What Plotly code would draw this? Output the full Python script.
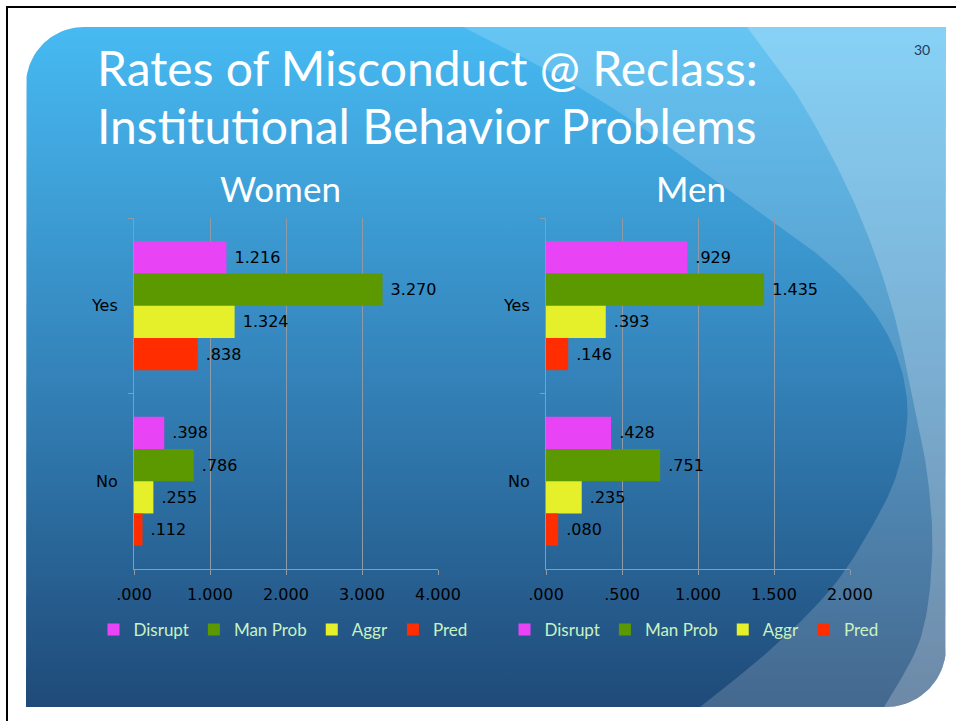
import numpy as np
import plotly.graph_objects as go

# ---------------- data ----------------
categories = ["Yes", "No"]
series_names = ["Disrupt", "Man Prob", "Aggr", "Pred"]
series_colors = ["#e844f5", "#5c9800", "#e6f02a", "#ff2d00"]

women_disrupt = [1.216, 0.398]
women_manprob = [3.270, 0.786]
women_aggr = [1.324, 0.255]
women_pred = [0.838, 0.112]

men_disrupt = [0.929, 0.428]
men_manprob = [1.435, 0.751]
men_aggr = [0.393, 0.235]
men_pred = [0.146, 0.080]

women_tickvals = [0, 1, 2, 3, 4]
women_ticktext = [".000", "1.000", "2.000", "3.000", "4.000"]
men_tickvals = [0, 0.5, 1, 1.5, 2]
men_ticktext = [".000", ".500", "1.000", "1.500", "2.000"]

title_lines = ["Rates of Misconduct @ Reclass:", "Institutional Behavior Problems"]
women_title = "Women"
men_title = "Men"
slide_number = "30"

W, H = 956, 721


def fmt(v):
    s = f"{v:.3f}"
    if s.startswith("0"):
        s = s[1:]
    return "\u00a0" + s


# ---------------- background helpers (pixel coords -> bg axis) ----------------
def smooth(pts, n=16):
    pts = np.array(pts, float)
    P = np.vstack([pts[0], pts, pts[-1]])
    out = []
    for i in range(1, len(P) - 2):
        p0, p1, p2, p3 = P[i - 1], P[i], P[i + 1], P[i + 2]
        for t in np.linspace(0, 1, n, endpoint=False):
            t2, t3 = t * t, t * t * t
            out.append(0.5 * ((2 * p1) + (-p0 + p2) * t + (2 * p0 - 5 * p1 + 4 * p2 - p3) * t2
                              + (-p0 + 3 * p1 - 3 * p2 + p3) * t3))
    out.append(pts[-1])
    return [tuple(p) for p in out]


def arc(cx, cy, r, a0, a1, n=24):
    a = np.radians(np.linspace(a0, a1, n))
    return list(zip(cx + r * np.cos(a), cy + r * np.sin(a)))


L, T, R, B = 26, 27, 946, 707
r1, r2 = 58, 60

slide_path = [(L, B), (L, T + r1)] + arc(L + r1, T + r1, r1, 180, 270) + [(R, T), (R, B - r2)] \
    + arc(R - r2, B - r2, r2, 0, 90) + [(L, B)]

curve_m = smooth([(463, 27), (600, 100), (735, 195), (830, 265), (885, 330), (907, 400),
                  (898, 470), (870, 530), (830, 590), (770, 650), (700, 707)])
overlay_m = curve_m + [(R - r2, B)] + arc(R - r2, B - r2, r2, 90, 0) + [(R, T), (463, T)]

curve_l = smooth([(747, 27), (800, 100), (853, 200), (890, 300), (913, 400), (928, 480),
                  (932, 560), (920, 640), (884, 707)])
overlay_l = curve_l + arc(R - r2, B - r2, r2, 90, 0) + [(R, T), (747, T)]


def to_xy(path):
    xs = [p[0] for p in path]
    ys = [H - p[1] for p in path]
    return xs, ys


fig = go.Figure()

sx, sy = to_xy(slide_path)
fig.add_trace(go.Scatter(
    x=sx, y=sy, mode="lines", fill="toself", line=dict(width=0),
    fillgradient=dict(type="vertical", start=H - B, stop=H - T,
                      colorscale=[[0, "#1f4a78"], [0.5, "#3484bb"], [1, "#47baf2"]]),
    hoverinfo="skip", showlegend=False, xaxis="x", yaxis="y"))

mx, my = to_xy(overlay_m)
fig.add_trace(go.Scatter(x=mx, y=my, mode="lines", fill="toself", line=dict(width=0),
                         fillcolor="rgba(255,255,255,0.17)", hoverinfo="skip",
                         showlegend=False, xaxis="x", yaxis="y"))
lx, ly = to_xy(overlay_l)
fig.add_trace(go.Scatter(x=lx, y=ly, mode="lines", fill="toself", line=dict(width=0),
                         fillcolor="rgba(255,255,255,0.22)", hoverinfo="skip",
                         showlegend=False, xaxis="x", yaxis="y"))

# ---------------- bars ----------------
women_series = [women_disrupt, women_manprob, women_aggr, women_pred]
men_series = [men_disrupt, men_manprob, men_aggr, men_pred]

label_font = dict(family="DejaVu Sans", size=16, color="#000000")

for name, color, vals in zip(series_names, series_colors, women_series):
    fig.add_trace(go.Bar(
        y=categories, x=vals, orientation="h", name=name,
        marker=dict(color=color, line=dict(width=0)),
        text=[fmt(v) for v in vals], textposition="outside", textfont=label_font,
        cliponaxis=False, xaxis="x2", yaxis="y2", legend="legend"))

for name, color, vals in zip(series_names, series_colors, men_series):
    fig.add_trace(go.Bar(
        y=categories, x=vals, orientation="h", name=name,
        marker=dict(color=color, line=dict(width=0)),
        text=[fmt(v) for v in vals], textposition="outside", textfont=label_font,
        cliponaxis=False, xaxis="x3", yaxis="y3", legend="legend2"))

grid_color = "#8e9ba6"
plot_top, plot_bot = 218, 569
ydom = [1 - plot_bot / H, 1 - plot_top / H]

xcommon = dict(showgrid=True, gridcolor=grid_color, gridwidth=1, showline=True,
               linecolor=grid_color, linewidth=1, ticks="outside", ticklen=5,
               tickcolor=grid_color, zeroline=False, fixedrange=True,
               tickfont=dict(family="DejaVu Sans", size=16, color="#000000"),
               ticklabelstandoff=6)
ycommon = dict(type="category", categoryorder="array", categoryarray=categories,
               range=[1.5, -0.5], showgrid=False, showline=True, linecolor=grid_color,
               linewidth=1, ticks="outside", ticklen=5, tickcolor=grid_color,
               tickson="boundaries", fixedrange=True, ticklabelstandoff=12,
               tickfont=dict(family="DejaVu Sans", size=16, color="#000000"))

legend_common = dict(orientation="h", yanchor="middle", xanchor="center",
                     y=1 - 630 / H, bgcolor="rgba(0,0,0,0)",
                     font=dict(family="Lato", size=17, color="#c8f2c2"),
                     itemclick=False, itemdoubleclick=False)

title_ann = []
for i, line in enumerate(title_lines):
    title_ann.append(dict(text=line, x=95 / W, y=1 - (68 + 57 * i) / H, xref="paper", yref="paper",
                          xanchor="left", yanchor="middle", align="left", showarrow=False,
                          font=dict(family="Lato", size=48, color="#ffffff")))

fig.update_layout(
    width=W, height=H, margin=dict(l=0, r=0, t=0, b=0, autoexpand=False),
    paper_bgcolor="#ffffff", plot_bgcolor="rgba(0,0,0,0)",
    barmode="group", bargap=0.266, bargroupgap=0,
    xaxis=dict(domain=[0, 1], range=[0, W], visible=False, fixedrange=True),
    yaxis=dict(domain=[0, 1], range=[0, H], visible=False, fixedrange=True),
    xaxis2=dict(domain=[134 / W, 438 / W], range=[0, 4], anchor="y2",
                tickvals=women_tickvals, ticktext=women_ticktext, **xcommon),
    yaxis2=dict(domain=ydom, anchor="x2", **ycommon),
    xaxis3=dict(domain=[546 / W, 850 / W], range=[0, 2], anchor="y3",
                tickvals=men_tickvals, ticktext=men_ticktext, **xcommon),
    yaxis3=dict(domain=ydom, anchor="x3", **ycommon),
    legend=dict(x=283 / W, **legend_common),
    legend2=dict(x=694 / W, **legend_common),
    showlegend=True,
    annotations=title_ann + [
        dict(text=women_title, x=280 / W, y=1 - 188 / H, xref="paper", yref="paper",
             xanchor="center", yanchor="middle", showarrow=False,
             font=dict(family="Lato", size=35, color="#ffffff")),
        dict(text=men_title, x=691 / W, y=1 - 188 / H, xref="paper", yref="paper",
             xanchor="center", yanchor="middle", showarrow=False,
             font=dict(family="Lato", size=35, color="#ffffff")),
        dict(text=slide_number, x=922 / W, y=1 - 50 / H, xref="paper", yref="paper",
             xanchor="center", yanchor="middle", showarrow=False,
             font=dict(family="Lato", size=14, color="#1d3d63")),
    ],
    shapes=[
        dict(type="line", xref="paper", yref="paper", x0=6 / W, x1=1, y0=1 - 7 / H, y1=1 - 7 / H,
             line=dict(color="#000000", width=2), layer="above"),
        dict(type="line", xref="paper", yref="paper", x0=7 / W, x1=7 / W, y0=0, y1=1 - 7 / H,
             line=dict(color="#000000", width=2), layer="above"),
    ],
)

fig.write_html("out.html", config={"displayModeBar": False},
               post_script="document.body.style.margin='0';document.body.style.overflow='hidden';")
